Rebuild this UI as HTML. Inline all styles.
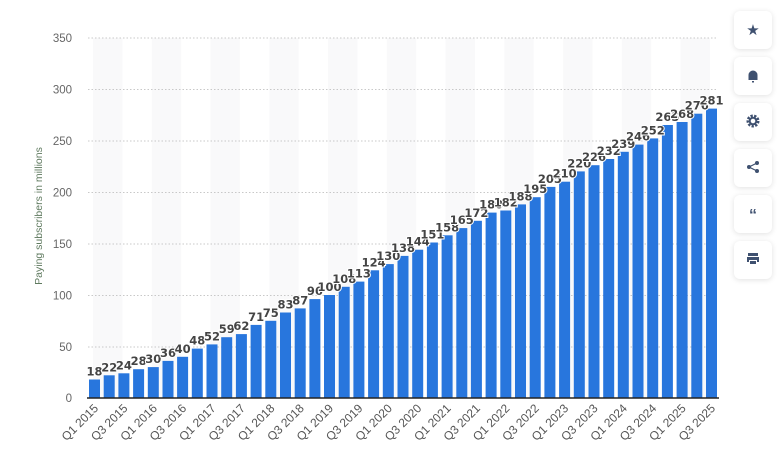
<!DOCTYPE html>
<html><head><meta charset="utf-8"><style>
body{margin:0;background:#fff;width:781px;height:458px;overflow:hidden;font-family:"Liberation Sans",sans-serif}
.btn{position:absolute;left:734px;width:38px;height:38px;background:#fff;border-radius:6px;box-shadow:0 1px 6px rgba(0,0,0,0.12)}
</style></head><body>
<svg width="781" height="458" style="position:absolute;left:0;top:0" font-family="Liberation Sans, sans-serif">
<g fill="#f9f9fa">
<rect x="93" y="38" width="29.4" height="360"/><rect x="151.8" y="38" width="29.4" height="360"/><rect x="210.5" y="38" width="29.4" height="360"/><rect x="269.3" y="38" width="29.4" height="360"/><rect x="328" y="38" width="29.4" height="360"/><rect x="386.8" y="38" width="29.4" height="360"/><rect x="445.6" y="38" width="29.4" height="360"/><rect x="504.3" y="38" width="29.4" height="360"/><rect x="563.1" y="38" width="29.4" height="360"/><rect x="621.8" y="38" width="29.4" height="360"/><rect x="680.6" y="38" width="29.4" height="360"/>
</g>
<g stroke="#c8c8c8" stroke-dasharray="1.5,2" stroke-width="1">
<line x1="88" x2="718" y1="38" y2="38"/><line x1="88" x2="718" y1="89.5" y2="89.5"/><line x1="88" x2="718" y1="141" y2="141"/><line x1="88" x2="718" y1="192.5" y2="192.5"/><line x1="88" x2="718" y1="244" y2="244"/><line x1="88" x2="718" y1="295.5" y2="295.5"/><line x1="88" x2="718" y1="347" y2="347"/>
</g>
<g fill="#666" font-size="11.5" text-anchor="end">
<text x="72" y="42">350</text><text x="72" y="93.5">300</text><text x="72" y="145">250</text><text x="72" y="196.5">200</text><text x="72" y="248">150</text><text x="72" y="299.5">100</text><text x="72" y="351">50</text><text x="72" y="402">0</text>
</g>
<text transform="translate(42,216) rotate(-90)" text-anchor="middle" font-size="10.5" fill="#5f7a5f">Paying subscribers in millions</text>
<g fill="#2876dd">
<rect x="89" y="379.5" width="11" height="18.5"/><rect x="103.7" y="375.3" width="11" height="22.7"/><rect x="118.4" y="373.3" width="11" height="24.7"/><rect x="133.1" y="369.2" width="11" height="28.8"/><rect x="147.8" y="367.1" width="11" height="30.9"/><rect x="162.5" y="360.9" width="11" height="37.1"/><rect x="177.1" y="356.8" width="11" height="41.2"/><rect x="191.8" y="348.6" width="11" height="49.4"/><rect x="206.5" y="344.4" width="11" height="53.6"/><rect x="221.2" y="337.2" width="11" height="60.8"/><rect x="235.9" y="334.1" width="11" height="63.9"/><rect x="250.6" y="324.9" width="11" height="73.1"/><rect x="265.3" y="320.8" width="11" height="77.2"/><rect x="280" y="312.5" width="11" height="85.5"/><rect x="294.7" y="308.4" width="11" height="89.6"/><rect x="309.4" y="299.1" width="11" height="98.9"/><rect x="324" y="295" width="11" height="103"/><rect x="338.7" y="286.8" width="11" height="111.2"/><rect x="353.4" y="281.6" width="11" height="116.4"/><rect x="368.1" y="270.3" width="11" height="127.7"/><rect x="382.8" y="264.1" width="11" height="133.9"/><rect x="397.5" y="255.9" width="11" height="142.1"/><rect x="412.2" y="249.7" width="11" height="148.3"/><rect x="426.9" y="242.5" width="11" height="155.5"/><rect x="441.6" y="235.3" width="11" height="162.7"/><rect x="456.3" y="228.1" width="11" height="169.9"/><rect x="470.9" y="220.8" width="11" height="177.2"/><rect x="485.6" y="212.6" width="11" height="185.4"/><rect x="500.3" y="210.5" width="11" height="187.5"/><rect x="515" y="204.4" width="11" height="193.6"/><rect x="529.7" y="197.2" width="11" height="200.8"/><rect x="544.4" y="186.9" width="11" height="211.1"/><rect x="559.1" y="181.7" width="11" height="216.3"/><rect x="573.8" y="171.4" width="11" height="226.6"/><rect x="588.5" y="165.2" width="11" height="232.8"/><rect x="603.2" y="159" width="11" height="239"/><rect x="617.8" y="151.8" width="11" height="246.2"/><rect x="632.5" y="144.6" width="11" height="253.4"/><rect x="647.2" y="138.4" width="11" height="259.6"/><rect x="661.9" y="125" width="11" height="273"/><rect x="676.6" y="122" width="11" height="276"/><rect x="691.3" y="113.7" width="11" height="284.3"/><rect x="706" y="108.6" width="11" height="289.4"/>
</g>
<line x1="87" x2="719" y1="398" y2="398" stroke="#222" stroke-width="1.5"/>
<g fill="#444" font-family="DejaVu Sans, sans-serif" font-size="11.5" font-weight="bold" text-anchor="middle" stroke="#fff" stroke-width="2" paint-order="stroke">
<text x="94.5" y="375.5">18</text><text x="109.2" y="371.3">22</text><text x="123.9" y="369.3">24</text><text x="138.6" y="365.2">28</text><text x="153.3" y="363.1">30</text><text x="168" y="356.9">36</text><text x="182.6" y="352.8">40</text><text x="197.3" y="344.6">48</text><text x="212" y="340.4">52</text><text x="226.7" y="333.2">59</text><text x="241.4" y="330.1">62</text><text x="256.1" y="320.9">71</text><text x="270.8" y="316.8">75</text><text x="285.5" y="308.5">83</text><text x="300.2" y="304.4">87</text><text x="314.9" y="295.1">96</text><text x="329.5" y="291">100</text><text x="344.2" y="282.8">108</text><text x="358.9" y="277.6">113</text><text x="373.6" y="266.3">124</text><text x="388.3" y="260.1">130</text><text x="403" y="251.9">138</text><text x="417.7" y="245.7">144</text><text x="432.4" y="238.5">151</text><text x="447.1" y="231.3">158</text><text x="461.8" y="224.1">165</text><text x="476.4" y="216.8">172</text><text x="491.1" y="208.6">180</text><text x="505.8" y="206.5">182</text><text x="520.5" y="200.4">188</text><text x="535.2" y="193.2">195</text><text x="549.9" y="182.9">205</text><text x="564.6" y="177.7">210</text><text x="579.3" y="167.4">220</text><text x="594" y="161.2">226</text><text x="608.7" y="155">232</text><text x="623.3" y="147.8">239</text><text x="638" y="140.6">246</text><text x="652.7" y="134.4">252</text><text x="667.4" y="121">265</text><text x="682.1" y="118">268</text><text x="696.8" y="109.7">276</text><text x="711.5" y="104.6">281</text>
</g>
<g fill="#555" font-size="12" text-anchor="end">
<text transform="translate(99,409) rotate(-45)">Q1 2015</text>
<text transform="translate(128.4,409) rotate(-45)">Q3 2015</text>
<text transform="translate(157.8,409) rotate(-45)">Q1 2016</text>
<text transform="translate(187.1,409) rotate(-45)">Q3 2016</text>
<text transform="translate(216.5,409) rotate(-45)">Q1 2017</text>
<text transform="translate(245.9,409) rotate(-45)">Q3 2017</text>
<text transform="translate(275.3,409) rotate(-45)">Q1 2018</text>
<text transform="translate(304.7,409) rotate(-45)">Q3 2018</text>
<text transform="translate(334,409) rotate(-45)">Q1 2019</text>
<text transform="translate(363.4,409) rotate(-45)">Q3 2019</text>
<text transform="translate(392.8,409) rotate(-45)">Q1 2020</text>
<text transform="translate(422.2,409) rotate(-45)">Q3 2020</text>
<text transform="translate(451.6,409) rotate(-45)">Q1 2021</text>
<text transform="translate(480.9,409) rotate(-45)">Q3 2021</text>
<text transform="translate(510.3,409) rotate(-45)">Q1 2022</text>
<text transform="translate(539.7,409) rotate(-45)">Q3 2022</text>
<text transform="translate(569.1,409) rotate(-45)">Q1 2023</text>
<text transform="translate(598.5,409) rotate(-45)">Q3 2023</text>
<text transform="translate(627.8,409) rotate(-45)">Q1 2024</text>
<text transform="translate(657.2,409) rotate(-45)">Q3 2024</text>
<text transform="translate(686.6,409) rotate(-45)">Q1 2025</text>
<text transform="translate(716,409) rotate(-45)">Q3 2025</text>
</g>
</svg>
<div class="btn" style="top:11px"></div>
<div class="btn" style="top:57px"></div>
<div class="btn" style="top:103px"></div>
<div class="btn" style="top:149px"></div>
<div class="btn" style="top:195px"></div>
<div class="btn" style="top:241px"></div>
<svg width="781" height="458" style="position:absolute;left:0;top:0" fill="#3f5170">
<text x="753" y="35" font-size="15" text-anchor="middle">★</text>
<path d="M748.5 80 v-5 a4.5 4.5 0 0 1 9 0 v5 z M752 81 h2 v1.5 h-2z"/>
<circle cx="753" cy="121" r="5" fill="none" stroke="#3f5170" stroke-width="3" stroke-dasharray="2.2,1.3"/>
<circle cx="753" cy="121" r="3.3" fill="none" stroke="#3f5170" stroke-width="2"/>
<circle cx="757" cy="163" r="2"/><circle cx="749" cy="167" r="2"/><circle cx="757" cy="171" r="2"/>
<path d="M757 163 L749 167 L757 171" stroke="#3f5170" stroke-width="1.2" fill="none"/>
<text x="753" y="220" font-size="16" font-weight="bold" text-anchor="middle">“</text>
<path d="M748 256 h10 v-3 h-10z M747 257 h12 v5 h-2 v-2 h-8 v2 h-2z M750 261 h6 v3 h-6z"/>
</svg>
</body></html>
